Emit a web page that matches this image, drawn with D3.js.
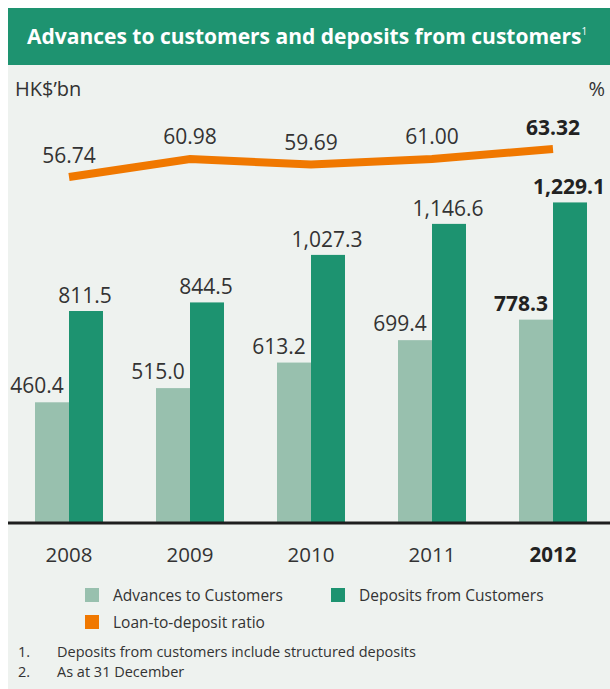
<!DOCTYPE html>
<meta charset="utf-8" />
<script src="https://d3js.org/d3.v7.min.js"></script>
<body style="margin: 0; background-color: #ffffff">
  <div id="chart"></div>
  <script>
    var years = ["2008", "2009", "2010", "2011", "2012"];
    var advances = [460.4, 515.0, 613.2, 699.4, 778.3];
    var deposits = [811.5, 844.5, 1027.3, 1146.6, 1229.1];
    var ratio = [56.74, 60.98, 59.69, 61.0, 63.32];
    var advLabels = ["460.4", "515.0", "613.2", "699.4", "778.3"];
    var depLabels = ["811.5", "844.5", "1,027.3", "1,146.6", "1,229.1"];
    var ratioLabels = ["56.74", "60.98", "59.69", "61.00", "63.32"];

    var width = 610,
      height = 689;
    var font = "'Open Sans', 'Noto Sans', sans-serif";

    var svg = d3
      .select("#chart")
      .append("svg")
      .attr("width", width)
      .attr("height", height)
      .style("font-family", font);

    // panel background and title bar
    svg.append("rect").attr("x", 8).attr("y", 8).attr("width", 602).attr("height", 681).attr("fill", "#eef2ef");
    svg.append("rect").attr("x", 8).attr("y", 8).attr("width", 602).attr("height", 57).attr("fill", "#1e9370");

    var title = svg
      .append("text")
      .attr("x", 27)
      .attr("y", 44)
      .attr("fill", "#ffffff")
      .style("font-size", "21px")
      .style("font-weight", "bold");
    title.append("tspan").text("Advances to customers and deposits from customers");
    title.append("tspan").attr("dy", -9).style("font-size", "10px").style("font-weight", "normal").text("1");

    svg.append("text").attr("x", 15).attr("y", 96).attr("fill", "#333").style("font-size", "20px").text("HK$\u2019bn");
    svg.append("text").attr("x", 605).attr("y", 96).attr("text-anchor", "end").attr("fill", "#333").style("font-size", "20px").text("%");

    var x = d3.scalePoint().domain(years).range([69, 553]);
    var xSub = d3.scaleBand().domain(["adv", "dep"]).range([-34, 34]);
    var y = d3.scaleLinear().domain([0, 1300]).range([522, 184]);
    var yRatio = d3.scaleLinear().domain([50, 70]).range([205.7, 120.6]);

    var rows = years.map(function (yr, i) {
      return { year: yr, adv: advances[i], dep: deposits[i], ratio: ratio[i], i: i };
    });
    var last = years.length - 1;

    function weight(d) {
      return d.i == last ? "bold" : "normal";
    }
    function ink(d) {
      return d.i == last ? "#222" : "#333";
    }

    var groups = svg
      .append("g")
      .selectAll("g")
      .data(rows)
      .enter()
      .append("g")
      .attr("transform", function (d) {
        return "translate(" + x(d.year) + ",0)";
      });

    groups
      .append("rect")
      .attr("x", xSub("adv"))
      .attr("width", xSub.bandwidth())
      .attr("y", function (d) { return y(d.adv); })
      .attr("height", function (d) { return y(0) - y(d.adv); })
      .attr("fill", "#98c0ae");
    groups
      .append("rect")
      .attr("x", xSub("dep"))
      .attr("width", xSub.bandwidth())
      .attr("y", function (d) { return y(d.dep); })
      .attr("height", function (d) { return y(0) - y(d.dep); })
      .attr("fill", "#1d9370");

    groups
      .append("text")
      .attr("x", xSub("adv") + xSub.bandwidth() / 2 - 15)
      .attr("y", function (d) { return y(d.adv) - 9; })
      .attr("text-anchor", "middle")
      .style("font-size", "21px")
      .style("font-weight", weight)
      .attr("fill", ink)
      .text(function (d) { return advLabels[d.i]; });
    groups
      .append("text")
      .attr("x", xSub("dep") + xSub.bandwidth() / 2 - 1)
      .attr("y", function (d) { return y(d.dep) - 8; })
      .attr("text-anchor", "middle")
      .style("font-size", "21px")
      .style("font-weight", weight)
      .attr("fill", ink)
      .text(function (d) { return depLabels[d.i]; });

    // baseline
    svg.append("line").attr("x1", 8).attr("x2", 610).attr("y1", y(0) + 1).attr("y2", y(0) + 1).attr("stroke", "#1e1e1e").attr("stroke-width", 3);

    // ratio line
    var line = d3
      .line()
      .x(function (d) { return x(d.year); })
      .y(function (d) { return yRatio(d.ratio); });
    svg.append("path").datum(rows).attr("d", line).attr("fill", "none").attr("stroke", "#f07800").attr("stroke-width", 8);

    svg
      .append("g")
      .selectAll("text")
      .data(rows)
      .enter()
      .append("text")
      .attr("x", function (d) { return x(d.year); })
      .attr("y", function (d) { return yRatio(d.ratio) - 14.5; })
      .attr("text-anchor", "middle")
      .style("font-size", "21px")
      .style("font-weight", weight)
      .attr("fill", ink)
      .text(function (d) { return ratioLabels[d.i]; });

    // year labels
    svg
      .append("g")
      .selectAll("text")
      .data(rows)
      .enter()
      .append("text")
      .attr("x", function (d) { return x(d.year); })
      .attr("y", 562)
      .attr("text-anchor", "middle")
      .style("font-size", "20.5px")
      .style("font-weight", weight)
      .attr("fill", ink)
      .text(function (d) { return d.year; });

    // legend
    var legend = [
      { label: "Advances to Customers", color: "#98c0ae", x: 85, y: 595 },
      { label: "Deposits from Customers", color: "#1d9370", x: 331, y: 595 },
      { label: "Loan-to-deposit ratio", color: "#f07800", x: 85, y: 622 }
    ];
    var lg = svg.append("g").selectAll("g").data(legend).enter().append("g");
    lg.append("rect")
      .attr("x", function (d) { return d.x; })
      .attr("y", function (d) { return d.y - 7; })
      .attr("width", 14)
      .attr("height", 14)
      .attr("fill", function (d) { return d.color; });
    lg.append("text")
      .attr("x", function (d) { return d.x + 28; })
      .attr("y", function (d) { return d.y + 6; })
      .attr("fill", "#333")
      .style("font-size", "15.5px")
      .text(function (d) { return d.label; });

    // footnotes
    var notes = ["Deposits from customers include structured deposits", "As at 31 December"];
    notes.forEach(function (n, i) {
      svg.append("text").attr("x", 18).attr("y", 657 + i * 20).attr("fill", "#333").style("font-size", "14.5px").text(i + 1 + ".");
      svg.append("text").attr("x", 57).attr("y", 657 + i * 20).attr("fill", "#333").style("font-size", "14.5px").text(n);
    });
  </script>
</body>
